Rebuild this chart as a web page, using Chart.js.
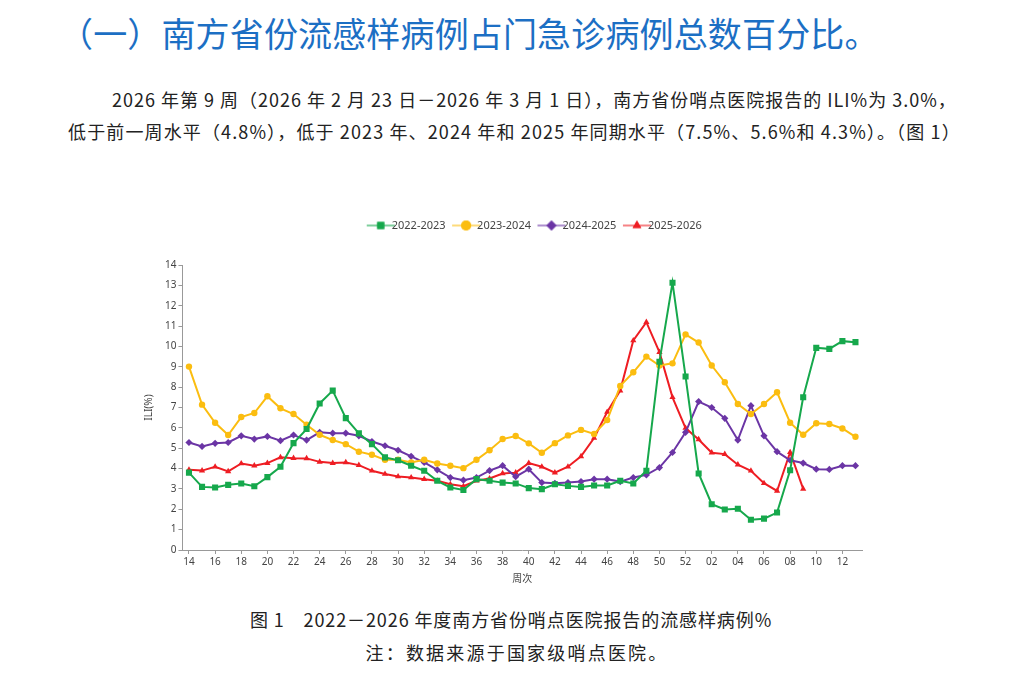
<!DOCTYPE html>
<html>
<head>
<meta charset="utf-8">
<script src="https://cdn.jsdelivr.net/npm/chart.js@4.4.1/dist/chart.umd.min.js"></script>
<style>
  body { margin:0; width:1016px; height:685px; background:#fff; position:relative; overflow:hidden;
         font-family:"Noto Sans CJK SC","Noto Sans",sans-serif; }
  .title { position:absolute; left:59px; top:16px; font-size:34px; line-height:34px; color:#1c6fc4; white-space:nowrap; letter-spacing:0.15px; }
  .para { position:absolute; font-size:18px; line-height:26px; letter-spacing:1px; color:#222; white-space:nowrap; }
  .cap { position:absolute; width:1016px; text-align:center; font-size:18px; line-height:26px; color:#222; white-space:nowrap; }
  #box { position:absolute; left:120px; top:201px; width:750px; height:385px; }
</style>
</head>
<body>
<div class="title">（一）南方省份流感样病例占门急诊病例总数百分比。</div>
<div class="para" style="left:112px;top:86px;">2026 年第 9 周（2026 年 2 月 23 日－2026 年 3 月 1 日），南方省份哨点医院报告的 ILI%为 3.0%，</div>
<div class="para" style="left:68px;top:118px;letter-spacing:1.13px;">低于前一周水平（4.8%），低于 2023 年、2024 年和 2025 年同期水平（7.5%、5.6%和 4.3%）。（图 1）</div>
<div id="box"><canvas id="chart"></canvas></div>
<div class="cap" style="top:606px;left:3px;letter-spacing:0.9px;">图 1　2022－2026 年度南方省份哨点医院报告的流感样病例%</div>
<div class="cap" style="top:639px;left:9px;letter-spacing:2.2px;">注：数据来源于国家级哨点医院。</div>
<script>
// 周次
var weeks = ['14','15','16','17','18','19','20','21','22','23','24','25','26','27','28','29',
	'30','31','32','33','34','35','36','37','38','39','40','41','42','43','44','45','46','47',
	'48','49','50','51','52',
	'01','02','03','04','05','06','07','08','09','10','11','12','13'];

var seriesNames = ['2022-2023','2023-2024','2024-2025','2025-2026'];

var ili2022 = [3.8,3.1,3.07,3.2,3.27,3.13,3.58,4.09,5.25,5.94,7.2,7.83,6.48,5.73,5.2,4.55,
	4.41,4.14,3.89,3.4,3.07,2.95,3.48,3.4,3.31,3.27,3.04,2.99,3.23,3.15,3.1,3.17,3.17,3.4,
	3.27,3.89,9.25,13.13,8.52,
	3.76,2.25,1.99,2.03,1.49,1.54,1.84,3.92,7.5,9.93,9.88,10.26,10.21];

var ili2023 = [9.01,7.14,6.25,5.65,6.53,6.73,7.55,6.96,6.68,6.15,5.66,5.4,5.2,4.83,4.68,4.43,
	4.43,4.3,4.43,4.25,4.14,4.02,4.43,4.9,5.45,5.6,5.24,4.78,5.25,5.63,5.9,5.7,6.38,8.06,
	8.73,9.5,9.06,9.17,10.59,
	10.19,9.06,8.24,7.17,6.68,7.17,7.75,6.25,5.66,6.23,6.19,5.97,5.56];

var ili2024 = [5.28,5.09,5.24,5.28,5.61,5.45,5.58,5.37,5.65,5.4,5.78,5.74,5.74,5.61,5.33,5.12,
	4.9,4.6,4.3,3.94,3.56,3.43,3.56,3.9,4.14,3.6,3.97,3.31,3.28,3.31,3.36,3.48,3.48,3.36,
	3.56,3.69,4.05,4.79,5.78,
	7.29,7.0,6.47,5.4,7.09,5.61,4.83,4.41,4.27,3.97,3.96,4.14,4.14];

var ili2025 = [3.94,3.9,4.09,3.86,4.25,4.14,4.27,4.55,4.51,4.5,4.33,4.27,4.3,4.17,3.89,3.73,
	3.61,3.56,3.48,3.4,3.23,3.13,3.4,3.51,3.76,3.8,4.27,4.09,3.8,4.09,4.6,5.5,6.78,7.83,
	10.29,11.19,9.72,7.5,5.99,
	5.43,4.78,4.71,4.19,3.89,3.28,2.9,4.8,3.0,null,null,null,null];

var colors = ['#16a84c','#fbbd10','#6b35a5','#ee1d23'];
var markers = ['rect','circle','rectRot','triangle'];
var markerSize = [4.3, 3.2, 3.6, 3.6];
var allData = [ili2022, ili2023, ili2024, ili2025];

// 图例小图标：线 + 标记
function legendIcon(color, style){
	var c = document.createElement('canvas');
	c.width = 30; c.height = 12;
	var ctx = c.getContext('2d');
	ctx.globalAlpha = 0.55;
	ctx.strokeStyle = color;
	ctx.lineWidth = 2;
	ctx.beginPath(); ctx.moveTo(1,6); ctx.lineTo(29,6); ctx.stroke();
	ctx.globalAlpha = 1;
	ctx.fillStyle = color;
	Chart.helpers.drawPoint(ctx, {pointStyle:style, radius:5, borderWidth:0}, 15, 6);
	ctx.fill();
	return c;
}

var datasets = [];
for (var i = 0; i < allData.length; i++) {
	datasets.push({
		label: seriesNames[i],
		data: allData[i],
		borderColor: colors[i],
		backgroundColor: colors[i],
		borderWidth: 2,
		pointStyle: markers[i],
		pointRadius: markerSize[i],
		pointBorderWidth: 0,
		tension: 0
	});
}

var icons = colors.map(function(c, i){ return legendIcon(c, markers[i]); });

// 图例往右挪一点，并且和绘图区拉开距离
var legendShift = {
	id: 'legendShift',
	beforeInit: function(chart){
		var fit = chart.legend.fit;
		chart.legend.fit = function(){
			fit.call(chart.legend);
			this.height += 24;
		};
	},
	afterLayout: function(chart){
		chart.legend.left += 40;
		chart.legend.right += 40;
	}
};

new Chart(document.getElementById('chart'), {
	type: 'line',
	data: { labels: weeks, datasets: datasets },
	plugins: [legendShift],
	options: {
		responsive: true,
		maintainAspectRatio: false,
		animation: false,
		layout: { padding: { left: 15, right: 8, top: 4, bottom: 0 } },
		plugins: {
			tooltip: { enabled: false },
			legend: {
				position: 'top',
				labels: {
					usePointStyle: true,
					color: '#444',
					font: { size: 11, family: 'Noto Sans' },
					padding: 15,
					generateLabels: function(chart){
						return chart.data.datasets.map(function(ds, i){
							return { text: ds.label, pointStyle: icons[i], fillStyle: ds.borderColor,
								strokeStyle: ds.borderColor, lineWidth: 0, datasetIndex: i, fontColor: '#444' };
						});
					}
				}
			}
		},
		scales: {
			x: {
				offset: true,
				grid: { drawOnChartArea: false, drawTicks: true, tickLength: 4,
					color: function(ctx){ return ctx.index % 2 == 0 ? '#999' : 'rgba(0,0,0,0)'; } },
				border: { color: '#999' },
				ticks: { autoSkip: false, maxRotation: 0, color: '#444', font: { size: 10, family: 'Noto Sans' },
					padding: 2,
					callback: function(v, idx){ return idx % 2 == 0 ? weeks[idx] : ''; } },
				title: { display: true, text: '周次', color: '#444', font: { size: 10, family: 'Noto Sans CJK SC' }, padding: 2 }
			},
			y: {
				min: 0, max: 14,
				grid: { drawOnChartArea: false, drawTicks: true, tickLength: 4, color: '#999' },
				border: { color: '#999' },
				ticks: { stepSize: 1, color: '#444', font: { size: 10, family: 'Noto Sans' }, padding: 2 },
				title: { display: true, text: 'ILI(%)', color: '#444', font: { size: 10, family: 'Noto Sans' }, padding: 8 }
			}
		}
	}
});
</script>
</body>
</html>
